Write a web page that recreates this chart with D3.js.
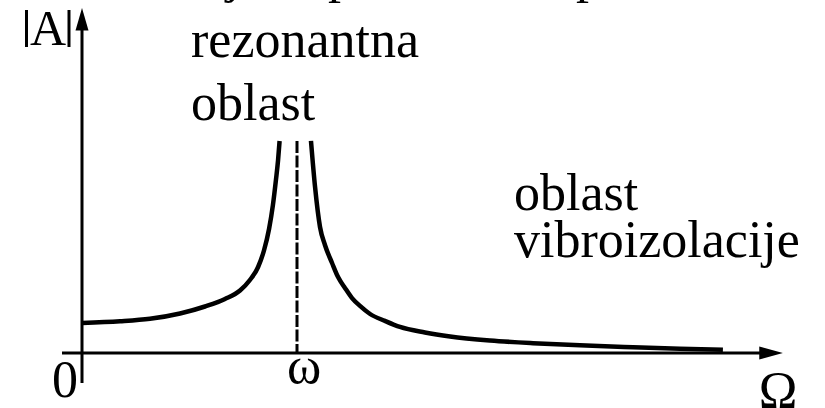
<!DOCTYPE html>
<html>
<head>
<meta charset="utf-8">
<script src="https://cdn.jsdelivr.net/npm/d3@7"></script>
<style>
  body { margin: 0; background: #fff; }
  text { font-family: "Liberation Serif", "Times New Roman", serif; fill: #000; }
</style>
</head>
<body>
<svg id="chart" width="825" height="408"></svg>
<script>
// amplitude |A| (normalized, A(0)=1) against Omega/omega
const leftOmega = [0, 0.177, 0.316, 0.456, 0.572, 0.665, 0.735, 0.781, 0.819, 0.847, 0.870, 0.888, 0.902, 0.912, 0.919]
const leftAmp = [1.0, 1.057, 1.14, 1.317, 1.55, 1.8, 2.083, 2.433, 2.867, 3.433, 4.133, 4.933, 5.767, 6.433, 7.067]
const rightOmega = [1.065, 1.084, 1.107, 1.130, 1.163, 1.191, 1.223, 1.256, 1.293, 1.340, 1.409, 1.479, 1.595, 1.712, 1.898, 2.098, 2.316, 2.563, 2.781, 2.981]
const rightAmp = [7.07, 5.53, 4.2, 3.6, 3.0, 2.53, 2.17, 1.83, 1.57, 1.3, 1.07, 0.867, 0.683, 0.55, 0.417, 0.327, 0.257, 0.193, 0.143, 0.107]
const resonance = 1
const regionLabels = [['rezonantna', 'oblast'], ['oblast', 'vibroizolacije']]
const axisLabels = { y: 'A', x: 'Ω', origin: '0', res: 'ω' }

const svg = d3.select('#chart')
const x = d3.scaleLinear().domain([0, 1]).range([82, 297])
const y = d3.scaleLinear().domain([0, 1]).range([353, 323])

const line = d3.line().x(d => x(d[0])).y(d => y(d[1])).curve(d3.curveMonotoneX)

// title line cut off at the top, only descenders show
svg.append('text').attr('x', 226).attr('y', -8).attr('font-size', 52).text('j')
svg.append('text').attr('x', 328).attr('y', -8).attr('font-size', 52).text('p')
svg.append('text').attr('x', 576).attr('y', -8).attr('font-size', 52).text('p')

// axes
svg.append('line').attr('x1', x(-0.093)).attr('x2', x(3.17)).attr('y1', y(0)).attr('y2', y(0))
    .attr('stroke', '#000').attr('stroke-width', 3)
svg.append('path')
    .attr('d', `M${x(3.26)},${y(0)} L${x(3.15)},${y(0) - 6.5} L${x(3.15)},${y(0) + 6.5} Z`)
    .attr('fill', '#000')
svg.append('line').attr('x1', x(0)).attr('x2', x(0)).attr('y1', y(-1)).attr('y2', y(10.9))
    .attr('stroke', '#000').attr('stroke-width', 3)
svg.append('path')
    .attr('d', `M${x(0)},${y(11.5)} L${x(0) - 6.5},${y(10.75)} L${x(0) + 6.5},${y(10.75)} Z`)
    .attr('fill', '#000')

// dashed resonance line
svg.append('line').attr('x1', x(resonance)).attr('x2', x(resonance))
    .attr('y1', y(7.07)).attr('y2', y(0))
    .attr('stroke', '#000').attr('stroke-width', 3).attr('stroke-dasharray', '12,2.5')

// curve branches
svg.append('path').datum(d3.zip(leftOmega, leftAmp)).attr('d', line)
    .attr('fill', 'none').attr('stroke', '#000').attr('stroke-width', 4.5)
svg.append('path').datum(d3.zip(rightOmega, rightAmp)).attr('d', line)
    .attr('fill', 'none').attr('stroke', '#000').attr('stroke-width', 4.5)

// labels
svg.append('line').attr('x1', 26.5).attr('x2', 26.5).attr('y1', 10).attr('y2', 47).attr('stroke', '#000').attr('stroke-width', 3)
svg.append('line').attr('x1', 69).attr('x2', 69).attr('y1', 10).attr('y2', 47).attr('stroke', '#000').attr('stroke-width', 3)
svg.append('text').attr('x', 48).attr('y', 45).attr('font-size', 50).attr('text-anchor', 'middle').text(axisLabels.y)
svg.append('text').attr('x', 52).attr('y', 397).attr('font-size', 52).text(axisLabels.origin)
svg.append('text').attr('x', 304).attr('y', 383).attr('font-size', 52).attr('text-anchor', 'middle').text(axisLabels.res)
svg.append('text').attr('x', 778).attr('y', 408).attr('font-size', 52).attr('text-anchor', 'middle').text(axisLabels.x)

const lab1 = svg.append('text').attr('font-size', 52)
lab1.append('tspan').attr('x', 191).attr('y', 57).text(regionLabels[0][0])
lab1.append('tspan').attr('x', 191).attr('y', 120).text(regionLabels[0][1])
const lab2 = svg.append('text').attr('font-size', 52)
lab2.append('tspan').attr('x', 514).attr('y', 210).text(regionLabels[1][0])
lab2.append('tspan').attr('x', 514).attr('y', 257).text(regionLabels[1][1])
</script>
</body>
</html>
